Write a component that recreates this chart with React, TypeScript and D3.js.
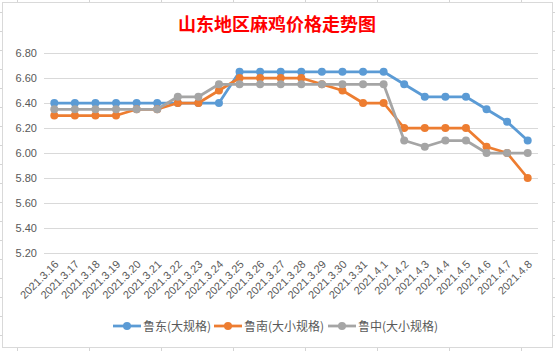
import { useRef, useEffect } from 'react'
import * as d3 from 'd3'

const W = 555
const H = 351
const MARGIN = { top: 53, right: 18, bottom: 98, left: 44 }

const TITLE = '山东地区麻鸡价格走势图'

const DATES = [
  '2021.3.16', '2021.3.17', '2021.3.18', '2021.3.19', '2021.3.20', '2021.3.21',
  '2021.3.22', '2021.3.23', '2021.3.24', '2021.3.25', '2021.3.26', '2021.3.27',
  '2021.3.28', '2021.3.29', '2021.3.30', '2021.3.31', '2021.4.1', '2021.4.2',
  '2021.4.3', '2021.4.4', '2021.4.5', '2021.4.6', '2021.4.7', '2021.4.8',
]

const LUDONG = [
  6.40, 6.40, 6.40, 6.40, 6.40, 6.40, 6.40, 6.40, 6.40, 6.65, 6.65, 6.65,
  6.65, 6.65, 6.65, 6.65, 6.65, 6.55, 6.45, 6.45, 6.45, 6.35, 6.25, 6.10,
]
const LUNAN = [
  6.30, 6.30, 6.30, 6.30, 6.35, 6.35, 6.40, 6.40, 6.50, 6.60, 6.60, 6.60,
  6.60, 6.55, 6.50, 6.40, 6.40, 6.20, 6.20, 6.20, 6.20, 6.05, 6.00, 5.80,
]
const LUZHONG = [
  6.35, 6.35, 6.35, 6.35, 6.35, 6.35, 6.45, 6.45, 6.55, 6.55, 6.55, 6.55,
  6.55, 6.55, 6.55, 6.55, 6.55, 6.10, 6.05, 6.10, 6.10, 6.00, 6.00, 6.00,
]

const SERIES_NAMES = ['鲁东(大规格)', '鲁南(大小规格)', '鲁中(大小规格)']
const SERIES_COLORS = ['#5B9BD5', '#ED7D31', '#A5A5A5']
const Y_TICKS = [5.2, 5.4, 5.6, 5.8, 6.0, 6.2, 6.4, 6.6, 6.8]

export default function App() {
  const svgRef = useRef<SVGSVGElement | null>(null)

  useEffect(() => {
    if (!svgRef.current) return
    const svg = d3.select(svgRef.current)
    svg.selectAll('*').remove()

    const iw = W - MARGIN.left - MARGIN.right
    const ih = 200

    // spreadsheet cells behind the chart
    const sheet = svg.append('g').attr('stroke', '#D4D4D4').attr('stroke-width', 1)
    d3.range(17.5, W, 72).forEach(x => {
      sheet.append('line').attr('x1', x).attr('x2', x).attr('y1', 0).attr('y2', H)
    })
    d3.range(12.5, H, 19).forEach(y => {
      sheet.append('line').attr('x1', 0).attr('x2', W).attr('y1', y).attr('y2', y)
    })

    // chart box
    svg.append('rect')
      .attr('x', 2.5).attr('y', 2.5).attr('width', 550).attr('height', 345)
      .attr('fill', '#fff').attr('stroke', '#D9D9D9').attr('stroke-width', 1)

    svg.append('text')
      .attr('x', 277).attr('y', 31)
      .attr('text-anchor', 'middle')
      .attr('font-family', '"Noto Sans CJK SC", sans-serif')
      .attr('font-size', 18).attr('font-weight', 700)
      .attr('fill', '#FF0000')
      .text(TITLE)

    const x = d3.scaleBand().domain(DATES).range([0, iw + 1]).padding(0)
    const y = d3.scaleLinear().domain([5.2, 6.8]).range([ih, 0])
    const cx = (d: string) => (x(d) ?? 0) + x.bandwidth() / 2

    const g = svg.append('g').attr('transform', `translate(${MARGIN.left},${MARGIN.top})`)

    // gridlines + y labels
    Y_TICKS.forEach(t => {
      g.append('line')
        .attr('x1', 0).attr('x2', iw + 1)
        .attr('y1', Math.round(y(t)) + 0.5).attr('y2', Math.round(y(t)) + 0.5)
        .attr('stroke', '#D9D9D9').attr('stroke-width', 1)
      g.append('text')
        .attr('x', -7).attr('y', y(t) + 4)
        .attr('text-anchor', 'end')
        .attr('font-family', '"Liberation Sans", Arial, sans-serif')
        .attr('font-size', 11).attr('fill', '#595959')
        .text(d3.format('.2f')(t))
    })

    // x labels, rotated
    DATES.forEach(d => {
      g.append('text')
        .attr('transform', `translate(${cx(d) + 5},${ih + 12}) rotate(-45)`)
        .attr('text-anchor', 'end')
        .attr('font-family', '"Liberation Sans", Arial, sans-serif')
        .attr('font-size', 11).attr('fill', '#595959')
        .text(d)
    })

    const series = [LUDONG, LUNAN, LUZHONG]
    const line = d3.line<number>().x((_, i) => cx(DATES[i])).y(v => y(v))

    series.forEach((vals, si) => {
      g.append('path').datum(vals).attr('d', line)
        .attr('fill', 'none').attr('stroke', SERIES_COLORS[si])
        .attr('stroke-width', 2.75).attr('stroke-linejoin', 'round')
      vals.forEach((v, i) => {
        g.append('circle')
          .attr('cx', cx(DATES[i])).attr('cy', y(v)).attr('r', 4)
          .attr('fill', SERIES_COLORS[si])
      })
    })

    // legend
    const legendX = [113, 214, 328]
    const ly = 326
    SERIES_NAMES.forEach((name, i) => {
      const lx = legendX[i]
      svg.append('line')
        .attr('x1', lx).attr('x2', lx + 28).attr('y1', ly).attr('y2', ly)
        .attr('stroke', SERIES_COLORS[i]).attr('stroke-width', 2.75)
      svg.append('circle').attr('cx', lx + 14).attr('cy', ly).attr('r', 4).attr('fill', SERIES_COLORS[i])
      svg.append('text')
        .attr('x', lx + 30).attr('y', ly + 4.5)
        .attr('font-family', '"Noto Sans CJK SC", sans-serif')
        .attr('font-size', 12).attr('fill', '#595959')
        .text(name)
    })
  }, [])

  return (
    <div style={{ position: 'absolute', left: 0, top: 0 }}>
      <svg ref={svgRef} width={W} height={H} style={{ display: 'block' }} />
    </div>
  )
}
